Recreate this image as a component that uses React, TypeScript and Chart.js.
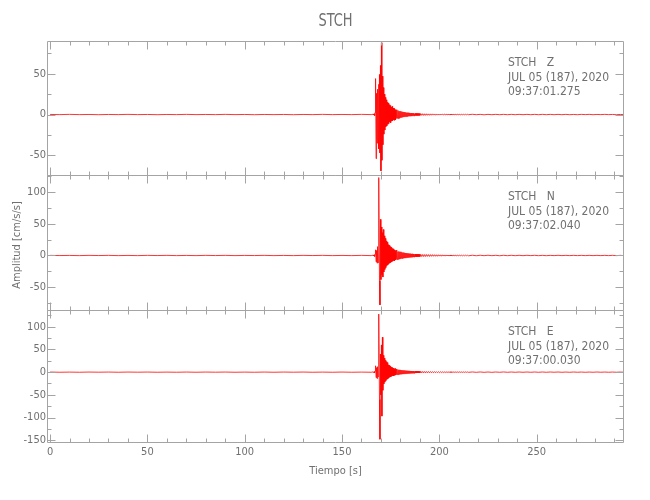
import { useEffect, useRef } from 'react';
import { Chart, registerables } from 'chart.js';

Chart.register(...registerables);

// ---------------- data ----------------
const chartTitle = 'STCH';
const xTitle = 'Tiempo [s]';
const yTitle = 'Amplitud [cm/s/s]';
const xTickLabels = [0, 50, 100, 150, 200, 250];
const xMin = -1.6;
const xMax = 294.9;

const stationLabels = ['STCH   Z', 'STCH   N', 'STCH   E'];
const dateLabel = 'JUL 05 (187), 2020';
const startTimeLabels = ['09:37:01.275', '09:37:02.040', '09:37:00.030'];

const zTickLabels = [-50, 0, 50];
const nTickLabels = [-50, 0, 50, 100];
const eTickLabels = [-150, -100, -50, 0, 50, 100];

// sampling of the hand-read trace segments (seconds)
const preStart = 0, preStep = 5;
const activeStart = 166, activeStep = 0.25;
const midStart = 190.5, midStep = 0.5;
const tailStart = 217, tailStep = 2;

const zPre = [0.1, -0.1, 0.2, -0.1, 0.1, -0.2, 0.1, -0.1, 0.2, -0.1, 0.1, -0.2, 0.1, -0.1, 0.2, -0.1, 0.1, -0.1, 0.2, -0.1, 0.1, -0.2, 0.1, -0.1, 0.1, -0.2, 0.1, -0.1, 0.2, -0.1, 0.1, -0.1, 0.2, -0.1];
const zActive = [
  0.4, -0.6, 0.9, -1.3, 2.5,
  44, -54, 26, -35, 31, -28, 37, -42,
  49, -47, 60, -69, 88, -56, 47, -37,
  33, -24, 25, -19, 21, -15, 18, -14,
  15, -12, 14, -11, 12, -9, 11, -10,
  9, -8, 10, -7.5, 8, -6.5, 7.5, -7,
  6, -6.5, 5.5, -5, 6, -4.5, 5, -5,
  4, -4.5, 4.2, -3.6, 4, -3.5, 3.4, -3.2,
  3.3, -2.8, 3, -2.7, 2.9, -2.5, 2.6, -2.5,
  2.2, -2.4, 2.3, -2, 2.2, -1.9, 2, -1.9,
  1.7, -1.8, 1.8, -1.6, 1.7, -1.5, 1.6, -1.5,
  1.4, -1.5, 1.4, -1.3, 1.4, -1.2, 1.3, -1.2,
  1.2, -1.1, 1.2, -1.1,
];
const zMid = [1.1, -1, 1, -1.1, 0.9, -1, 0.9, -0.9, 0.8, -0.9, 0.8, -0.8, 0.8, -0.7, 0.7, -0.8, 0.7, -0.7, 0.6, -0.7, 0.6, -0.6, 0.6, -0.5, 0.6, -0.5, 0.5, -0.5, 0.5, -0.5, 0.4, -0.5, 0.5, -0.4, 0.4, -0.4, 0.4, -0.4, 0.4, -0.3, 0.3, -0.4, 0.3, -0.3, 0.3, -0.3, 0.3, -0.3, 0.3, -0.2];
const zTail = [0.3, -0.2, 0.2, -0.3, 0.2, -0.2, 0.2, -0.2, 0.2, -0.2, 0.2, -0.2, 0.2, -0.2, 0.2, -0.2, 0.2, -0.2, 0.2, -0.2, 0.2, -0.2, 0.2, -0.2, 0.2, -0.2, 0.1, -0.2, 0.2, -0.1, 0.2, -0.2, 0.1, -0.1, 0.2, -0.1, 0.1, -0.2, 0.1, -0.1];

const nPre = [0.2, -0.1, 0.1, -0.2, 0.2, -0.1, 0.2, -0.2, 0.1, -0.2, 0.2, -0.1, 0.2, -0.2, 0.1, -0.2, 0.2, -0.1, 0.2, -0.2, 0.1, -0.1, 0.2, -0.2, 0.1, -0.2, 0.2, -0.1, 0.2, -0.2, 0.1, -0.2, 0.2, -0.2];
const nActive = [
  0.5, -0.7, 1, -1.5, 2.5,
  9, -10, 8, -12, 14, -11, 20, 123,
  -40, -78, 57, -38, 45, -30, 36, -34,
  41, -26, 31, -22, 27, -19, 23, -16,
  21, -15, 17, -13, 16, -12, 14, -11,
  13, -10, 11, -9, 10.5, -8, 9, -8.5,
  7.5, -7, 8.5, -6.5, 7, -6.5, 6, -6,
  6.5, -5.5, 5.5, -5, 6, -4.5, 5, -4.8,
  4.5, -4.2, 4.6, -4, 4.1, -3.8, 3.9, -3.5,
  3.6, -3.3, 3.4, -3.1, 3.2, -3, 3, -2.8,
  2.9, -2.7, 2.6, -2.6, 2.7, -2.4, 2.4, -2.3,
  2.3, -2.2, 2.2, -2.1, 2.1, -2, 2, -1.9,
  1.9, -1.8, 1.8, -1.8,
];
const nMid = [1.7, -1.7, 1.6, -1.7, 1.5, -1.6, 1.5, -1.4, 1.4, -1.5, 1.3, -1.3, 1.3, -1.2, 1.2, -1.2, 1.1, -1.2, 1.1, -1, 1, -1.1, 1, -0.9, 0.9, -1, 0.9, -0.8, 0.8, -0.9, 0.8, -0.7, 0.7, -0.8, 0.7, -0.7, 0.6, -0.7, 0.6, -0.6, 0.6, -0.5, 0.5, -0.6, 0.5, -0.5, 0.5, -0.4, 0.4, -0.5];
const nTail = [0.4, -0.4, 0.4, -0.3, 0.4, -0.3, 0.3, -0.4, 0.3, -0.3, 0.3, -0.3, 0.3, -0.3, 0.3, -0.2, 0.3, -0.3, 0.2, -0.3, 0.2, -0.2, 0.3, -0.2, 0.2, -0.2, 0.2, -0.2, 0.2, -0.2, 0.2, -0.2, 0.2, -0.2, 0.2, -0.2, 0.2, -0.2, 0.2, -0.2];

const ePre = [0.2, -0.2, 0.1, -0.2, 0.2, -0.1, 0.2, -0.2, 0.2, -0.1, 0.2, -0.2, 0.1, -0.2, 0.2, -0.2, 0.2, -0.1, 0.2, -0.2, 0.1, -0.2, 0.2, -0.2, 0.2, -0.1, 0.2, -0.2, 0.1, -0.2, 0.2, -0.2, 0.1, -0.2];
const eActive = [
  0.5, -0.6, 1, -1.4, 3,
  14, -12, 10, -14, 12, -10, 18, 128,
  -60, -148, 40, -50, 60, -97, 77, -40,
  37, -26, 31, -22, 26, -19, 23, -16,
  21, -15, 16, -13, 15, -11, 13, -10.5,
  11, -9, 10, -8, 9, -8.5, 7.5, -7,
  8, -6.5, 6.5, -6, 7, -5.5, 5.5, -5.5,
  5, -4.8, 5.2, -4.5, 4.6, -4.4, 4.2, -4,
  4.1, -3.8, 3.8, -3.6, 3.7, -3.4, 3.4, -3.3,
  3.2, -3.1, 3.1, -2.9, 2.9, -2.8, 2.8, -2.6,
  2.6, -2.5, 2.5, -2.4, 2.4, -2.3, 2.3, -2.2,
  2.2, -2.1, 2.1, -2, 2, -1.9, 1.9, -1.8,
  1.8, -1.8, 1.7, -1.7,
];
const eMid = [1.7, -1.6, 1.6, -1.5, 1.5, -1.5, 1.4, -1.4, 1.4, -1.3, 1.3, -1.3, 1.2, -1.2, 1.2, -1.1, 1.1, -1.1, 1, -1.1, 1, -1, 0.9, -1, 0.9, -0.9, 0.9, -0.8, 0.8, -0.8, 0.8, -0.7, 0.7, -0.7, 0.7, -0.7, 0.6, -0.6, 0.6, -0.6, 0.6, -0.5, 0.5, -0.5, 0.5, -0.5, 0.5, -0.4, 0.4, -0.4];
const eTail = [0.4, -0.4, 0.4, -0.4, 0.3, -0.4, 0.3, -0.3, 0.4, -0.3, 0.3, -0.3, 0.3, -0.3, 0.3, -0.3, 0.3, -0.3, 0.3, -0.3, 0.3, -0.2, 0.3, -0.3, 0.2, -0.3, 0.3, -0.2, 0.2, -0.3, 0.2, -0.2, 0.3, -0.2, 0.2, -0.2, 0.2, -0.2, 0.2, -0.2];

// ---------------- styling ----------------
const FONT = "'DejaVu Sans Condensed', 'Liberation Sans Narrow', 'DejaVu Sans', sans-serif";
const TEXT = '#707070';
const AXIS = '#a4a4a4';
const TRACE = '#ff0000';

type Seg = { start: number; step: number; values: number[] };

function buildPoints(segs: Seg[]) {
  const pts: { x: number; y: number }[] = [];
  segs.forEach((s) => s.values.forEach((v, i) => pts.push({ x: s.start + i * s.step, y: v })));
  return pts;
}

const panels = [
  { id: 'yZ', min: -74, max: 90, weight: 134, order: 3, ticks: zTickLabels, pre: zPre, active: zActive, mid: zMid, tail: zTail },
  { id: 'yN', min: -86, max: 127, weight: 135, order: 2, ticks: nTickLabels, pre: nPre, active: nActive, mid: nMid, tail: nTail },
  { id: 'yE', min: -154, max: 137, weight: 132, order: 1, ticks: eTickLabels, pre: ePre, active: eActive, mid: eMid, tail: eTail },
];

const framePlugin = {
  id: 'seisFrame',
  afterDraw(chart: any) {
    const ctx = chart.ctx as CanvasRenderingContext2D;
    const xs = chart.scales.x;
    const left = Math.round(chart.chartArea.left) + 0.5;
    const right = Math.round(chart.chartArea.right) - 0.5;
    ctx.save();
    ctx.strokeStyle = AXIS;
    ctx.lineWidth = 1;
    const line = (x1: number, y1: number, x2: number, y2: number) => {
      ctx.beginPath();
      ctx.moveTo(x1, y1);
      ctx.lineTo(x2, y2);
      ctx.stroke();
    };
    panels.forEach((p, k) => {
      const ys = chart.scales[p.id];
      const top = Math.round(ys.top) + 0.5;
      const bottom = Math.round(ys.bottom) + 0.5;
      line(left, top, right, top);
      line(left, bottom, right, bottom);
      line(left, top, left, bottom);
      line(right, top, right, bottom);
      for (let v = 0; v <= xMax; v += 10) {
        const px = Math.round(xs.getPixelForValue(v)) + 0.5;
        const len = v % 50 === 0 ? 8 : 4;
        line(px, top, px, top + len);
        line(px, bottom, px, bottom - len);
      }
      for (let v = Math.ceil(p.min / 25) * 25; v <= p.max; v += 25) {
        const py = Math.round(ys.getPixelForValue(v)) + 0.5;
        const len = v % 50 === 0 ? 8 : 4;
        line(left, py, left + len, py);
        line(right, py, right - len, py);
      }
      // annotations
      ctx.fillStyle = TEXT;
      ctx.font = `12px ${FONT}`;
      ctx.textAlign = 'left';
      ctx.textBaseline = 'middle';
      const tx = 508;
      ctx.fillText(stationLabels[k], tx, ys.top + 22);
      ctx.fillText(dateLabel, tx, ys.top + 36.5);
      ctx.fillText(startTimeLabels[k], tx, ys.top + 51);
    });
    // titles
    ctx.fillStyle = TEXT;
    ctx.textAlign = 'center';
    ctx.textBaseline = 'middle';
    const cx = (chart.chartArea.left + chart.chartArea.right) / 2;
    ctx.save();
    ctx.translate(cx, 22);
    ctx.scale(0.85, 1);
    ctx.font = `17px ${FONT}`;
    ctx.fillText(chartTitle, 0, 0);
    ctx.restore();
    ctx.font = `11px ${FONT}`;
    ctx.fillText(xTitle, cx, 471.5);
    ctx.save();
    ctx.translate(17, 245);
    ctx.rotate(-Math.PI / 2);
    ctx.fillText(yTitle, 0, 0);
    ctx.restore();
    ctx.restore();
  },
};

export default function App() {
  const ref = useRef<HTMLCanvasElement>(null);
  useEffect(() => {
    document.body.style.margin = '0';
    const scales: any = {
      x: {
        type: 'linear',
        position: 'bottom',
        min: xMin,
        max: xMax,
        grid: { display: false, drawTicks: false },
        border: { display: false },
        ticks: { color: TEXT, font: { family: FONT, size: 11 }, padding: 4, autoSkip: false, maxRotation: 0 },
        afterBuildTicks: (s: any) => {
          s.ticks = xTickLabels.map((v) => ({ value: v }));
        },
        afterFit: (s: any) => {
          s.height = 20;
        },
      },
    };
    panels.forEach((p) => {
      scales[p.id] = {
        type: 'linear',
        position: 'left',
        stack: 'seis',
        stackWeight: p.weight,
        weight: p.order,
        min: p.min,
        max: p.max,
        offset: false,
        grid: { display: false, drawTicks: false },
        border: { display: false },
        ticks: {
          color: TEXT,
          font: { family: FONT, size: 11 },
          padding: 1,
          autoSkip: false,
          callback: (v: any) => String(v),
        },
        afterBuildTicks: (s: any) => {
          s.ticks = p.ticks.map((v) => ({ value: v }));
        },
        afterFit: (s: any) => {
          s.width = 40;
        },
      };
    });
    const datasets = panels.map((p) => ({
      label: p.id,
      yAxisID: p.id,
      xAxisID: 'x',
      data: buildPoints([
        { start: preStart, step: preStep, values: p.pre },
        { start: activeStart, step: activeStep, values: p.active },
        { start: midStart, step: midStep, values: p.mid },
        { start: tailStart, step: tailStep, values: p.tail },
      ]),
      borderColor: TRACE,
      borderWidth: 0.8,
      pointRadius: 0,
      tension: 0,
      fill: false,
    }));
    const chart = new Chart(ref.current as HTMLCanvasElement, {
      type: 'line',
      data: { datasets },
      options: {
        responsive: false,
        animation: false,
        devicePixelRatio: 1,
        layout: { padding: { left: 7, right: 26, top: 41, bottom: 38 } },
        plugins: { legend: { display: false }, tooltip: { enabled: false }, title: { display: false } },
        scales,
      } as any,
      plugins: [framePlugin],
    });
    return () => chart.destroy();
  }, []);
  return (
    <div style={{ width: 650, height: 500, background: '#ffffff' }}>
      <canvas ref={ref} width={650} height={500} style={{ display: 'block' }} />
    </div>
  );
}
